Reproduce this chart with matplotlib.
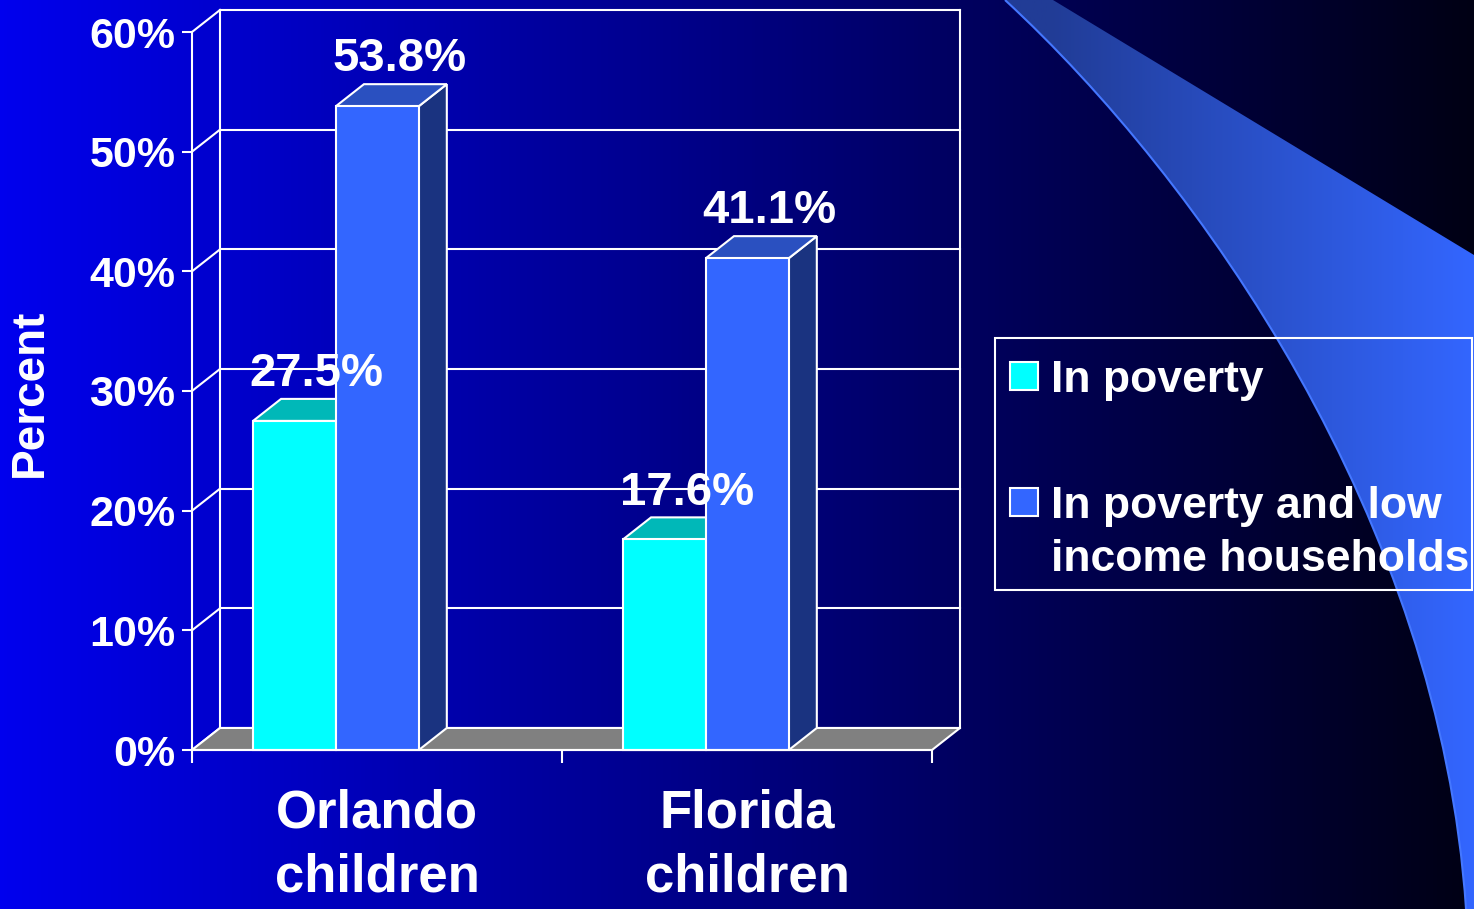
import numpy as np
import matplotlib.pyplot as plt
from matplotlib.patches import Polygon, Rectangle, PathPatch
from matplotlib.path import Path

plt.rcParams['font.family'] = ['Liberation Sans', 'DejaVu Sans']
plt.rcParams['font.weight'] = 'bold'

categories = ['Orlando\nchildren', 'Florida\nchildren']
series_names = ['In poverty', 'In poverty and low\nincome households']
in_poverty = [27.5, 17.6]
poverty_low_income = [53.8, 41.1]
y_ticks = [0, 10, 20, 30, 40, 50, 60]
y_tick_labels = ['0%', '10%', '20%', '30%', '40%', '50%', '60%']

# front / top / side face colours for each series
series_colors = [('#00FFFF', '#00B8B8', '#008B8B'),
                 ('#3366FF', '#2A50C0', '#1A3380')]

W, H = 1474, 909
fig = plt.figure(figsize=(W / 100, H / 100), dpi=100)

# ---- background: horizontal blue gradient + swoosh (pixel coords) ----
bg = fig.add_axes([0, 0, 1, 1], zorder=0)
bg.axis('off')
xs = np.linspace(0, 1, 400)
grad = np.zeros((2, 400, 3))
grad[:, :, 2] = (238 - 218 * xs) / 255.0
bg.imshow(grad, extent=[0, W, H, 0], aspect='auto', zorder=0)

verts = [(1005, 0), (1200, 180), (1440, 520), (1466, 909),
         (1474, 909), (1474, 255), (1053, 0), (1005, 0)]
codes = [Path.MOVETO, Path.CURVE4, Path.CURVE4, Path.CURVE4,
         Path.LINETO, Path.LINETO, Path.LINETO, Path.CLOSEPOLY]
swoosh = PathPatch(Path(verts, codes), facecolor='none', edgecolor='none', zorder=1)
bg.add_patch(swoosh)
sx = np.clip((np.linspace(1000, W, 200) - 1050) / 424.0, 0, 1)
sgrad = np.zeros((2, 200, 3))
sgrad[:, :, 0] = (33 + 18 * sx) / 255.0
sgrad[:, :, 1] = (60 + 42 * sx) / 255.0
sgrad[:, :, 2] = (150 + 105 * sx) / 255.0
im = bg.imshow(sgrad, extent=[1000, W, H, 0], aspect='auto', zorder=1)
im.set_clip_path(swoosh)
edge = Path(verts[:4], codes[:4])
bg.add_patch(PathPatch(edge, facecolor='none', edgecolor='#4477FF', lw=1.5, zorder=2))
bg.set_xlim(0, W)
bg.set_ylim(H, 0)

# ---- legend (drawn by hand to match the slide layout) ----
bg.add_patch(Rectangle((995, 338), 477, 252, facecolor='none', edgecolor='white', lw=1.5, zorder=5))
leg_y = [376, 502]
for name, cols, ly in zip(series_names, series_colors, leg_y):
    bg.add_patch(Rectangle((1010, ly - 14), 28, 28, facecolor=cols[0], edgecolor='white', lw=1.5, zorder=5))
    bg.text(1051, ly - 16, name, color='white', fontsize=32, ha='left', va='top',
            linespacing=1.36, zorder=6)

# ---- main chart ----
ax = fig.add_axes([192 / W, (H - 750) / H, 740 / W, 718 / H], zorder=2)
ax.set_facecolor('none')
ax.set_xlim(0, 2)
ax.set_ylim(0, 60)

DX, DY = 0.0757, 1.84   # depth offset in data units
line_kw = dict(color='white', lw=1.5, clip_on=False, zorder=1)

# back wall, gridlines and connectors
for v in y_ticks:
    ax.plot([DX, 2 + DX], [v + DY, v + DY], **line_kw)
    ax.plot([0, DX], [v, v + DY], **line_kw)
ax.plot([DX, DX], [DY, 60 + DY], **line_kw)
ax.plot([2 + DX, 2 + DX], [DY, 60 + DY], **line_kw)

# floor
ax.add_patch(Polygon([(0, 0), (2, 0), (2 + DX, DY), (DX, DY)], closed=True,
                     facecolor='#808080', edgecolor='white', lw=1.5, clip_on=False, zorder=2))

bar_w = 0.224
bar_start = 0.165


def draw_bar(x0, h, cols):
    front = Rectangle((x0, 0), bar_w, h, facecolor=cols[0], edgecolor='white', lw=1.5,
                      clip_on=False, zorder=3)
    top = Polygon([(x0, h), (x0 + bar_w, h), (x0 + bar_w + DX, h + DY), (x0 + DX, h + DY)],
                  closed=True, facecolor=cols[1], edgecolor='white', lw=1.5, clip_on=False, zorder=3)
    side = Polygon([(x0 + bar_w, 0), (x0 + bar_w + DX, DY), (x0 + bar_w + DX, h + DY), (x0 + bar_w, h)],
                   closed=True, facecolor=cols[2], edgecolor='white', lw=1.5, clip_on=False, zorder=3)
    for p in (side, top, front):
        ax.add_patch(p)


for i in range(len(categories)):
    for s, vals in enumerate([in_poverty, poverty_low_income]):
        x0 = i + bar_start + s * bar_w
        draw_bar(x0, vals[i], series_colors[s])
        ax.annotate(f'{vals[i]:.1f}%', (x0 + bar_w / 2 + DX / 2, vals[i] + DY),
                    xytext=(6, 2), textcoords='offset points', ha='center', va='bottom',
                    color='white', fontsize=34, zorder=10, annotation_clip=False)

# axes, ticks, labels
for side in ['top', 'right']:
    ax.spines[side].set_visible(False)
for side in ['left', 'bottom']:
    ax.spines[side].set_color('white')
    ax.spines[side].set_linewidth(1.5)
    ax.spines[side].set_zorder(4)

ax.set_yticks(y_ticks, labels=y_tick_labels)
ax.tick_params(axis='y', colors='white', length=7, width=1.5, labelsize=31, pad=5)
ax.set_xticks([0, 1, 2], labels=['', '', ''])
ax.tick_params(axis='x', which='major', colors='white', length=9, width=1.5)
ax.set_xticks([0.5, 1.5], labels=categories, minor=True, fontsize=38, linespacing=1.35)
ax.tick_params(axis='x', which='minor', length=0, labelcolor='white', pad=28)

fig.text(30 / W, 1 - 393 / H, 'Percent', rotation=90, ha='center', va='center',
         color='white', fontsize=33)

fig.savefig('out.png', dpi=100)
